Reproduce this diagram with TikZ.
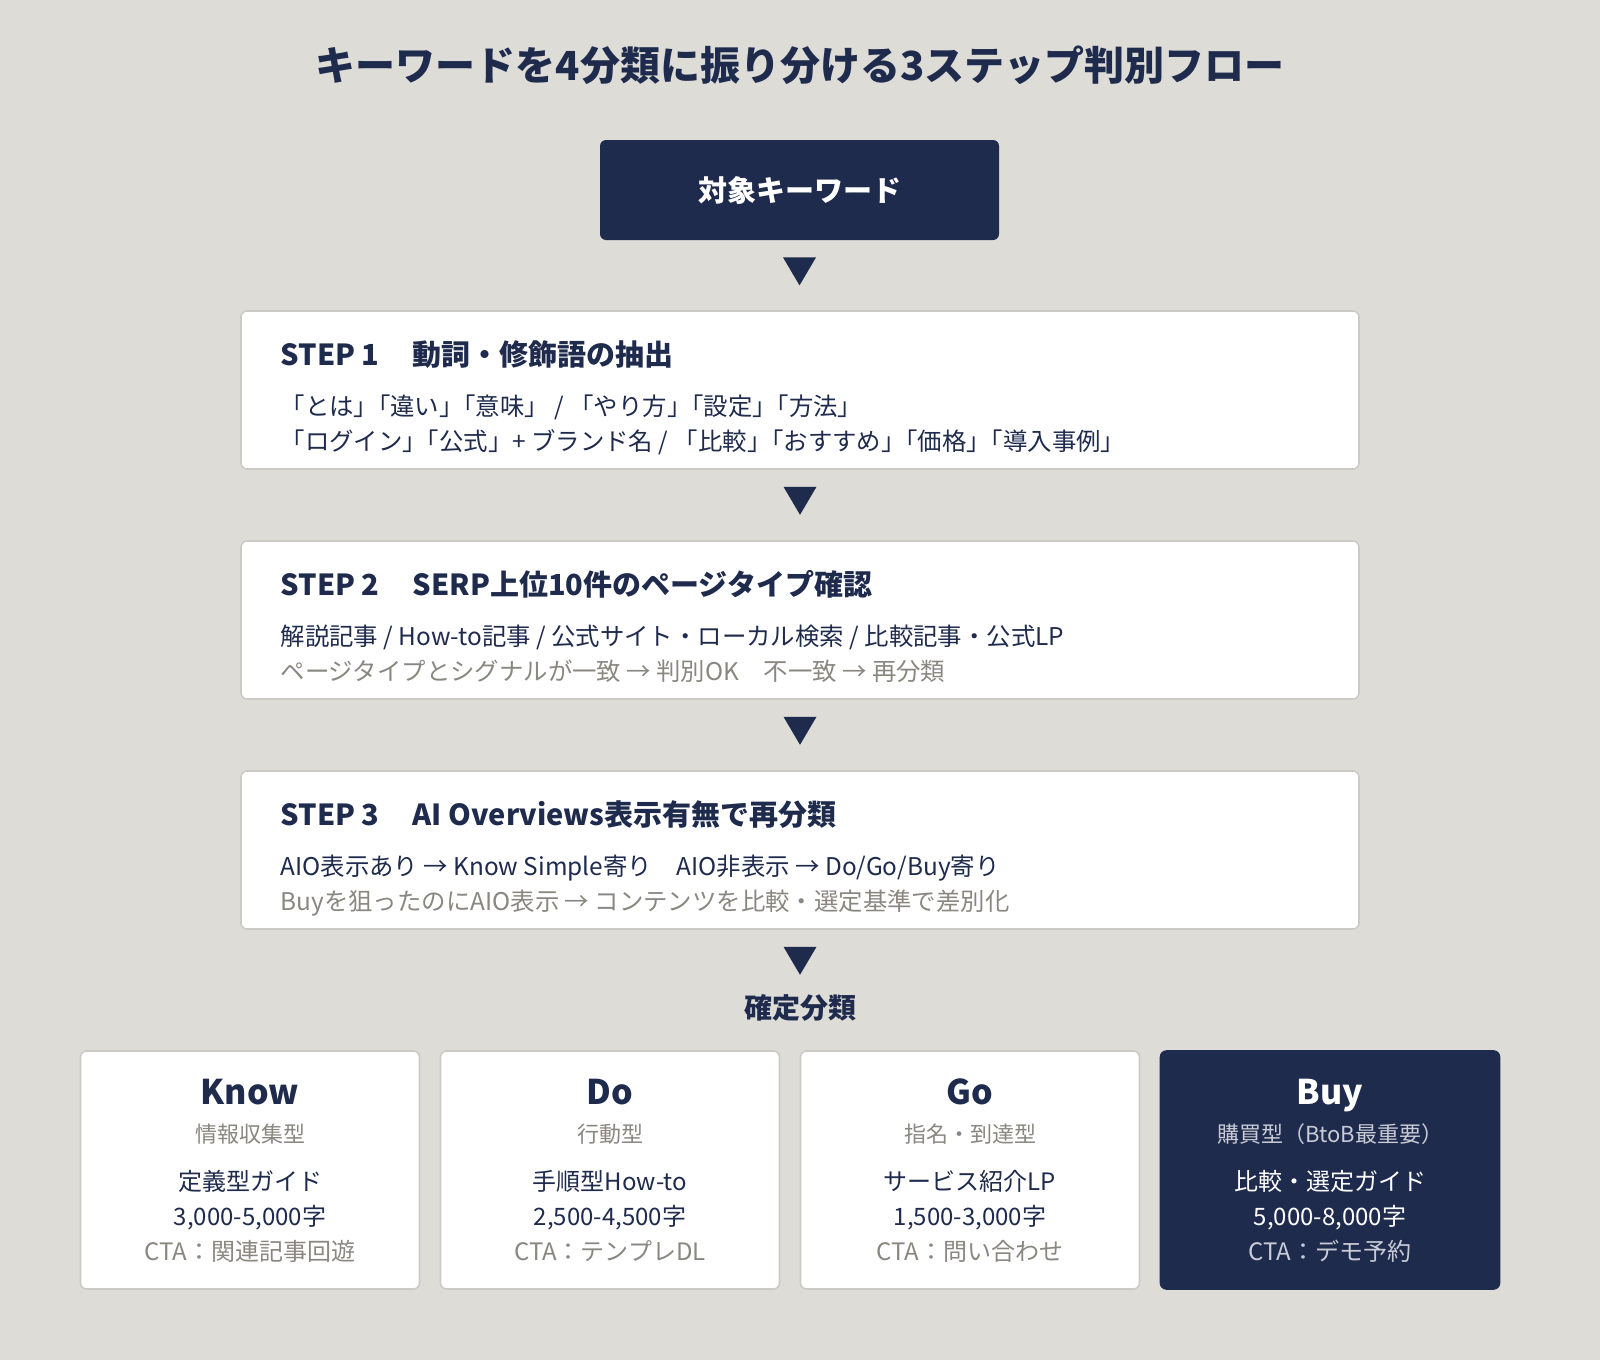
\documentclass[tikz,border=0pt]{standalone}
\usepackage{fontspec}
\setmainfont{Noto Sans CJK JP}
\usetikzlibrary{calc}
\definecolor{navy}{HTML}{1F2B4D}
\definecolor{paper}{HTML}{DDDCD7}
\definecolor{mute}{HTML}{8A8780}
\definecolor{edge}{HTML}{CBCAC4}
\definecolor{pale}{HTML}{C9CCD6}
\newcommand\kakko{」\kern-.5em「}
\begin{document}
\begin{tikzpicture}[x=0.5pt,y=-0.5pt,
  stepbox/.style={draw=edge,line width=0.8pt,fill=white,rounded corners=3pt,
    minimum width=559pt,minimum height=79pt,inner sep=0pt},
  cardbox/.style={line width=0.8pt,rounded corners=3pt,
    minimum width=169.5pt,minimum height=119pt,inner sep=0pt},
  head/.style={anchor=base west,inner sep=0pt,text=navy,
    font=\bfseries\fontsize{14.5}{17}\selectfont},
  body/.style={anchor=base west,inner sep=0pt,text=navy,
    font=\fontsize{12.2}{14}\selectfont},
  note/.style={body,text=mute},
  cardline/.style={anchor=base,inner sep=0pt,font=\fontsize{12}{14}\selectfont}]
\useasboundingbox (0,0) rectangle (1600,1360);
\fill[paper] (0,0) rectangle (1600,1360);
% title
\node[anchor=base,inner sep=0pt,text=navy,font=\bfseries\fontsize{20}{24}\selectfont]
  (title) at (800,80) {キーワードを4分類に振り分ける3ステップ判別フロー};
% keyword box
\node[fill=navy,rounded corners=3pt,minimum width=199.5pt,minimum height=50pt,inner sep=0pt]
  (key) at (799.5,190) {};
\node[anchor=base,inner sep=0pt,text=white,font=\bfseries\fontsize{14.5}{18}\selectfont]
  (key-t) at (800,201.5) {対象キーワード};
% steps
\node[stepbox] (s1) at (800,390) {};
\node[stepbox] (s2) at (800,620) {};
\node[stepbox] (s3) at (800,850) {};
\node[head] (s1-h) at ([shift={(40,55)}]s1.north west) {STEP 1\hspace{.15em}　動詞・修飾語の抽出};
\node[body] (s1-a) at ([shift={(40,105)}]s1.north west) {「とは\kakko 違い\kakko 意味」 / 「やり方\kakko 設定\kakko 方法」};
\node[body] (s1-b) at ([shift={(40,140)}]s1.north west) {「ログイン\kakko 公式」+ ブランド名 / 「比較\kakko おすすめ\kakko 価格\kakko 導入事例」};
\node[head] (s2-h) at ([shift={(40,55)}]s2.north west) {STEP 2\hspace{.15em}　SERP上位10件のページタイプ確認};
\node[body] (s2-a) at ([shift={(40,105)}]s2.north west) {解説記事 / How-to記事 / 公式サイト・ローカル検索 / 比較記事・公式LP};
\node[note] (s2-b) at ([shift={(40,140)}]s2.north west) {ページタイプとシグナルが一致 → 判別OK　不一致 → 再分類};
\node[head] (s3-h) at ([shift={(40,55)}]s3.north west) {STEP 3\hspace{.15em}　AI Overviews表示有無で再分類};
\node[body] (s3-a) at ([shift={(40,105)}]s3.north west) {AIO表示あり → Know Simple寄り　AIO非表示 → Do/Go/Buy寄り};
\node[note] (s3-b) at ([shift={(40,140)}]s3.north west) {Buyを狙ったのにAIO表示 → コンテンツを比較・選定基準で差別化};
% down triangles
\foreach \n in {key,s1,s2,s3}{
  \fill[navy] ($(\n.south)+(-16.5,17)$) -- ($(\n.south)+(16.5,17)$) -- ($(\n.south)+(0,45)$) -- cycle;
}
\node[anchor=base,inner sep=0pt,text=navy,font=\bfseries\fontsize{14}{17}\selectfont]
  (result) at (800,1018.5) {確定分類};
% cards
\foreach \i/\kind/\sub/\page/\chars/\cta/\bg/\rim/\fg/\dim in {
  1/Know/情報収集型/定義型ガイド/{3,000-5,000字}/CTA：関連記事回遊/white/edge/navy/mute,
  2/Do/行動型/手順型How-to/{2,500-4,500字}/CTA：テンプレDL/white/edge/navy/mute,
  3/Go/指名・到達型/サービス紹介LP/{1,500-3,000字}/CTA：問い合わせ/white/edge/navy/mute,
  4/Buy/購買型（BtoB最重要）/比較・選定ガイド/{5,000-8,000字}/CTA：デモ予約/navy/navy/white/pale}{
  \node[cardbox,fill=\bg,draw=\rim] (c\i) at ({250+360*(\i-1)},1170) {};
  \node[anchor=base,inner sep=0pt,text=\fg,font=\bfseries\fontsize{17}{20}\selectfont]
    (c\i-k) at ([shift={(0,54)}]c\i.north) {\kind};
  \node[cardline,text=\dim,font=\fontsize{11}{13}\selectfont] (c\i-s) at ([shift={(0,92)}]c\i.north) {\sub};
  \node[cardline,text=\fg] (c\i-p) at ([shift={(0,140)}]c\i.north) {\page};
  \node[cardline,text=\fg] (c\i-n) at ([shift={(0,175)}]c\i.north) {\chars};
  \node[cardline,text=\dim] (c\i-c) at ([shift={(0,210)}]c\i.north) {\cta};
}
\end{tikzpicture}
\end{document}
